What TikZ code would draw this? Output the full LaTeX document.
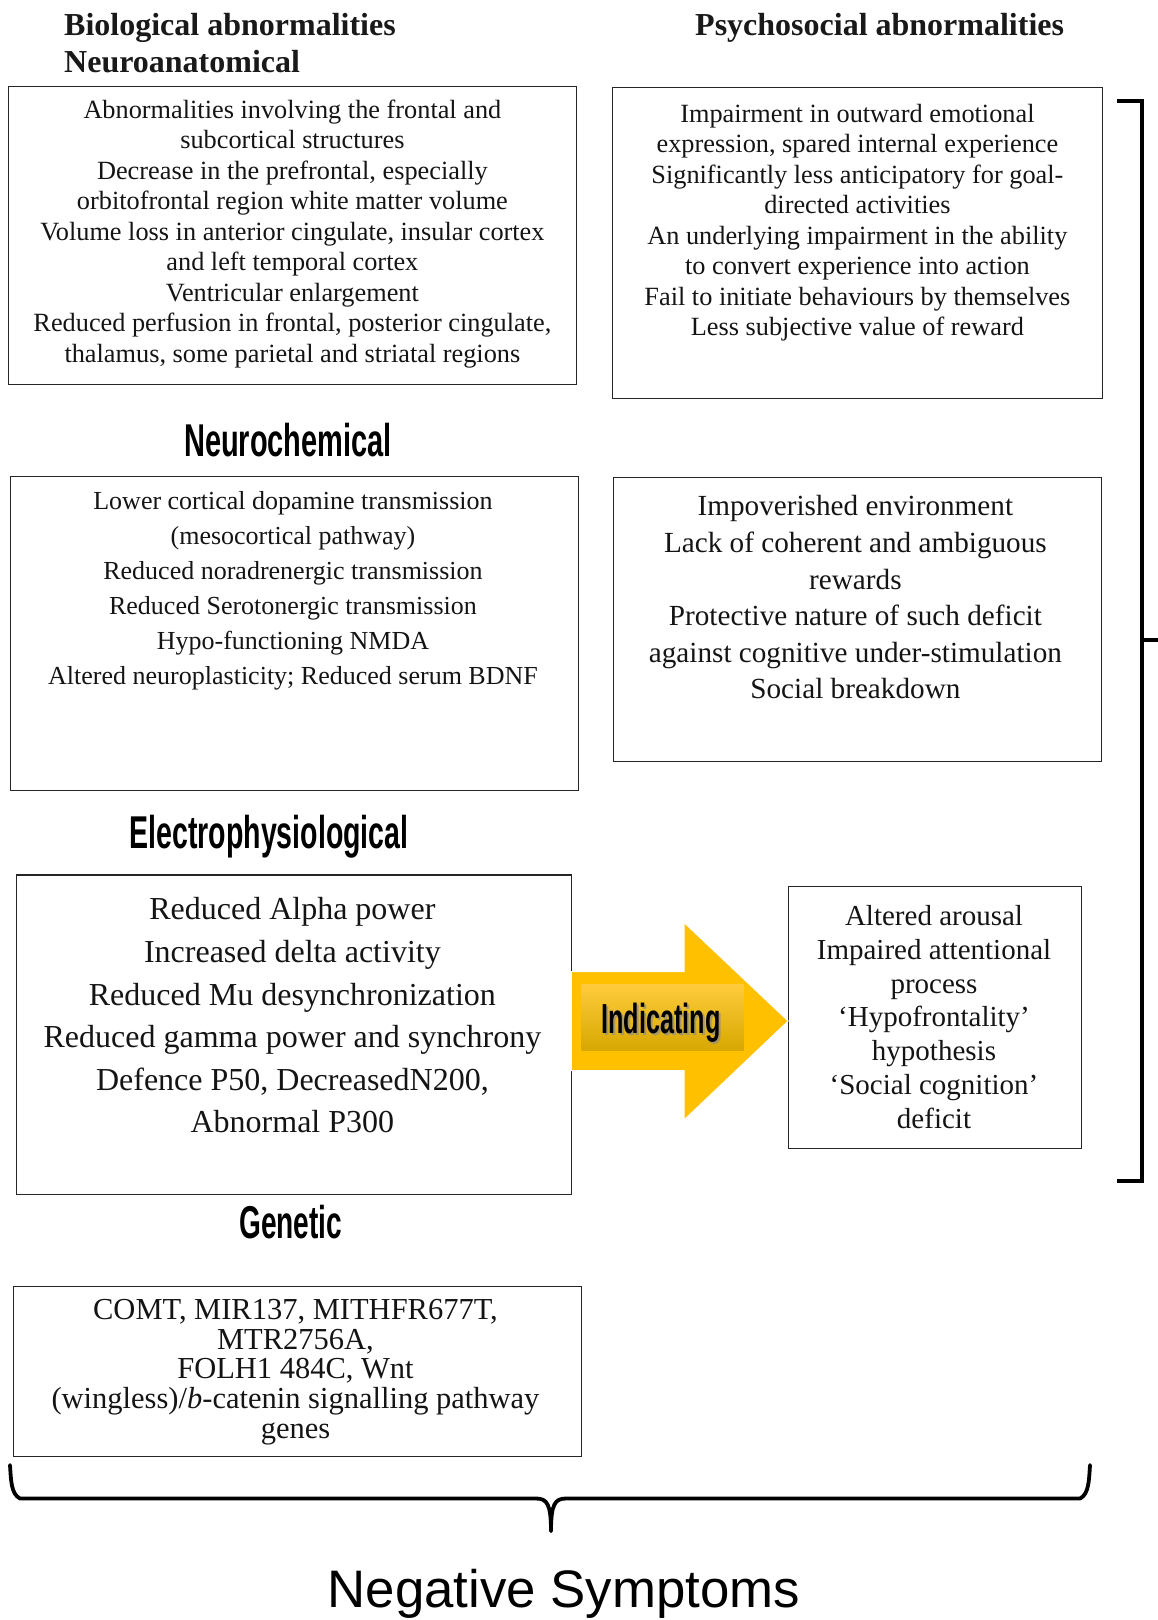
\documentclass[tikz,border=0pt]{standalone}
\usepackage{fontspec}
\setmainfont{Liberation Serif}
\newfontfamily\arialf{Liberation Sans}
\usepackage{graphicx}
\definecolor{arrowyellow}{HTML}{FFC000}
\definecolor{bandtop}{HTML}{FFCB3C}
\definecolor{bandbot}{HTML}{D6A800}
\begin{document}
\begin{tikzpicture}[x=1pt,y=-1pt,
  box/.style={draw=black!85,line width=1.2pt,rectangle,inner sep=0pt,outer sep=0pt},
  txt/.style={align=center,inner sep=0pt,text=black!92},
  hdr/.style={inner sep=0pt,font=\fontsize{32}{36}\selectfont\bfseries,text=black!90},
  cond/.style={inner sep=0pt,font=\arialf\fontsize{46}{50}\selectfont\bfseries},
  brk/.style={line width=4pt,line cap=butt,line join=miter}
]
\useasboundingbox (0,0) rectangle (1158,1620);

% headers
\node[hdr,anchor=base west] (h1) at (64,35) {Biological abnormalities};
\node[hdr,anchor=base west] (h2) at (64,72) {Neuroanatomical};
\node[hdr,anchor=base west] (h3) at (695,35) {Psychosocial abnormalities};
\node[cond,anchor=base] (h4) at (288,456.6) {\scalebox{0.63}[1]{Neurochemical}};
\node[cond,anchor=base] (h5) at (269,848) {\scalebox{0.62}[1]{Electrophysiological}};
\node[cond,anchor=base] (h6) at (290.8,1238.6) {\scalebox{0.61}[1]{Genetic}};

% boxes
\node[box,minimum width=568.1pt,minimum height=297.5pt] (b1) at (292.35,235.55) {};
\node[box,minimum width=489.9pt,minimum height=311.3pt] (b2) at (857.55,243.15) {};
\node[box,minimum width=568.2pt,minimum height=314.1pt] (b3) at (294.4,633.25) {};
\node[box,minimum width=487.6pt,minimum height=284.1pt] (b4) at (857.4,619.35) {};
\node[box,minimum width=554.8pt,minimum height=319.2pt] (b5) at (293.9,1034.6) {};
\node[box,minimum width=293.4pt,minimum height=262.4pt] (b6) at (934.9,1017.6) {};
\node[box,minimum width=568.2pt,minimum height=170.4pt] (b7) at (297.5,1371.4) {};

% texts
\node[txt,font=\fontsize{26.3}{30.5}\selectfont] (t1) at (292.4,234) {Abnormalities involving the frontal and\\ subcortical structures\\ Decrease in the prefrontal, especially\\ orbitofrontal region white matter volume\\ Volume loss in anterior cingulate, insular cortex\\ and left temporal cortex\\ Ventricular enlargement\\ Reduced perfusion in frontal, posterior cingulate,\\ thalamus, some parietal and striatal regions};
\node[txt,font=\fontsize{26.3}{30.5}\selectfont] (t2) at (857.4,222.5) {Impairment in outward emotional\\ expression, spared internal experience\\ Significantly less anticipatory for goal-\\ directed activities\\ An underlying impairment in the ability\\ to convert experience into action\\ Fail to initiate behaviours by themselves\\ Less subjective value of reward};
\node[txt,font=\fontsize{26}{34.9}\selectfont] (t3) at (293,591) {Lower cortical dopamine transmission\\ (mesocortical pathway)\\ Reduced noradrenergic transmission\\ Reduced Serotonergic transmission\\ Hypo-functioning NMDA\\ Altered neuroplasticity; Reduced serum BDNF};
\node[txt,font=\fontsize{29.2}{36.6}\selectfont] (t4) at (855.4,597.5) {Impoverished environment\\ Lack of coherent and ambiguous\\ rewards\\ Protective nature of such deficit\\ against cognitive under-stimulation\\ Social breakdown};
\node[txt,font=\fontsize{32}{42.6}\selectfont] (t5) at (292.4,1015.5) {Reduced Alpha power\\ Increased delta activity\\ Reduced Mu desynchronization\\ Reduced gamma power and synchrony\\ Defence P50, DecreasedN200,\\ Abnormal P300};
\node[txt,font=\fontsize{29}{33.9}\selectfont] (t6) at (934,1017) {Altered arousal\\ Impaired attentional\\ process\\ ‘Hypofrontality’\\ hypothesis\\ ‘Social cognition’\\ deficit};
\node[txt,font=\fontsize{30.5}{29.7}\selectfont] (t7) at (295.5,1372) {COMT, MIR137, MITHFR677T,\\ MTR2756A,\\ FOLH1 484C, Wnt\\ (wingless)/\textit{b}-catenin signalling pathway\\ genes};

% block arrow from b5 to b6
\fill[arrowyellow,draw=white,line width=1pt] (b5.east |- 0,971.5) -- (684,971.5) -- (684,922.5) -- (b6.west |- 0,1021) -- (684,1120) -- (684,1070.5) -- (b5.east |- 0,1070.5) -- cycle;
\fill[top color=bandtop,middle color=arrowyellow,bottom color=bandbot] (581.6,984.5) rectangle (743.8,1050.6);
\node[cond,anchor=base,font=\arialf\fontsize{42}{46}\selectfont\bfseries,text=black!45,opacity=0.7] (ish) at (663,1035.5) {\scalebox{0.6}[1]{Indicating}};
\node[cond,anchor=base,font=\arialf\fontsize{42}{46}\selectfont\bfseries] (ind) at (661,1033) {\scalebox{0.6}[1]{Indicating}};

% right bracket
\draw[brk] (1117,101) -- (1142,101) -- (1142,1181) -- (1117,1181);
\draw[brk] (1142,640) -- (1158,640);

% bottom brace
\draw[line width=3.8pt,line cap=round,line join=round]
  (10,1465) .. controls (11,1480) and (11,1494) .. (20,1498.5) -- (536,1498.5)
  .. controls (547,1498.5) and (551,1504) .. (551,1531);
\draw[line width=3.8pt,line cap=round,line join=round]
  (1090,1465) .. controls (1089,1480) and (1089,1494) .. (1080,1498.5) -- (566,1498.5)
  .. controls (555,1498.5) and (551,1504) .. (551,1531);

\node[inner sep=0pt,anchor=base,font=\arialf\fontsize{52.8}{56}\selectfont] (neg) at (564,1607.5) {Negative Symptoms};
\end{tikzpicture}
\end{document}
